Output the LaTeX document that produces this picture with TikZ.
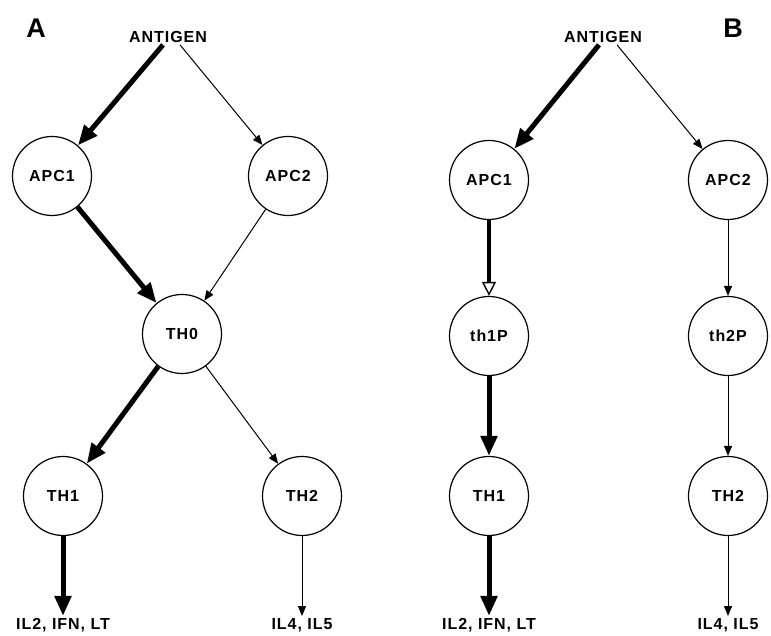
\documentclass[tikz,border=0pt]{standalone}
\usepackage{fontspec}
\setmainfont{Liberation Sans}[LetterSpace=6]
\usetikzlibrary{arrows.meta}

\tikzset{
  cell/.style={circle,draw,line width=1.2pt,minimum size=79pt,inner sep=0pt,
    font=\fontsize{16}{18}\selectfont\bfseries},
  tag/.style={font=\fontsize{16}{18}\selectfont\bfseries,inner sep=2pt},
  panel/.style={font=\fontsize{27}{32}\selectfont\bfseries},
  strong/.style={line width=5pt,-{Triangle[length=20pt,width=16pt]}},
  weak/.style={line width=1pt,-{Triangle[length=10pt,width=8pt]}},
  primed/.style={line width=4pt,
    -{Triangle[open,length=14pt,width=14pt,line width=1.4pt,fill=white]}}
}

\begin{document}
\begin{tikzpicture}[x=1pt,y=1pt]
        \useasboundingbox (0,0) rectangle (771,636);

        % panel A
        \node[panel] (labA) at (36,608) {A};
        \node[tag] (antA) at (168,599) {ANTIGEN};
        \node[cell] (apc1A) at (52,460) {APC1};
        \node[cell] (apc2A) at (288,460) {APC2};
        \node[cell] (th0A) at (182,302) {TH0};
        \node[cell] (th1A) at (63,140) {TH1};
        \node[cell] (th2A) at (302,140) {TH2};
        \node[tag] (outA1) at (63,11) {IL2, IFN, LT};
        \node[tag] (outA2) at (302,11) {IL4, IL5};

        \draw[strong] ([xshift=-5pt]antA.south) -- (apc1A);
        \draw[weak] ([xshift=12pt]antA.south) -- (apc2A);
        \draw[strong] (apc1A) -- (th0A);
        \draw[weak] (apc2A) -- (th0A);
        \draw[strong] (th0A) -- (th1A);
        \draw[weak] (th0A) -- (th2A);
        \draw[strong] (th1A) -- (outA1);
        \draw[weak] (th2A) -- (outA2);

        % panel B
        \node[panel] (labB) at (733,608) {B};
        \node[tag] (antB) at (603,599) {ANTIGEN};
        \node[cell] (apc1B) at (489,456) {APC1};
        \node[cell] (apc2B) at (728,456) {APC2};
        \node[cell] (th1pB) at (489,300) {th1P};
        \node[cell] (th2pB) at (728,300) {th2P};
        \node[cell] (th1B) at (489,140) {TH1};
        \node[cell] (th2B) at (728,140) {TH2};
        \node[tag] (outB1) at (489,11) {IL2, IFN, LT};
        \node[tag] (outB2) at (728,11) {IL4, IL5};

        \draw[strong] ([xshift=-4pt]antB.south) -- (apc1B);
        \draw[weak] ([xshift=14pt]antB.south) -- (apc2B);
        \draw[primed] (apc1B) -- (th1pB);
        \draw[weak] (apc2B) -- (th2pB);
        \draw[strong] (th1pB) -- (th1B);
        \draw[weak] (th2pB) -- (th2B);
        \draw[strong] (th1B) -- (outB1);
        \draw[weak] (th2B) -- (outB2);
    \end{tikzpicture}
\end{document}
